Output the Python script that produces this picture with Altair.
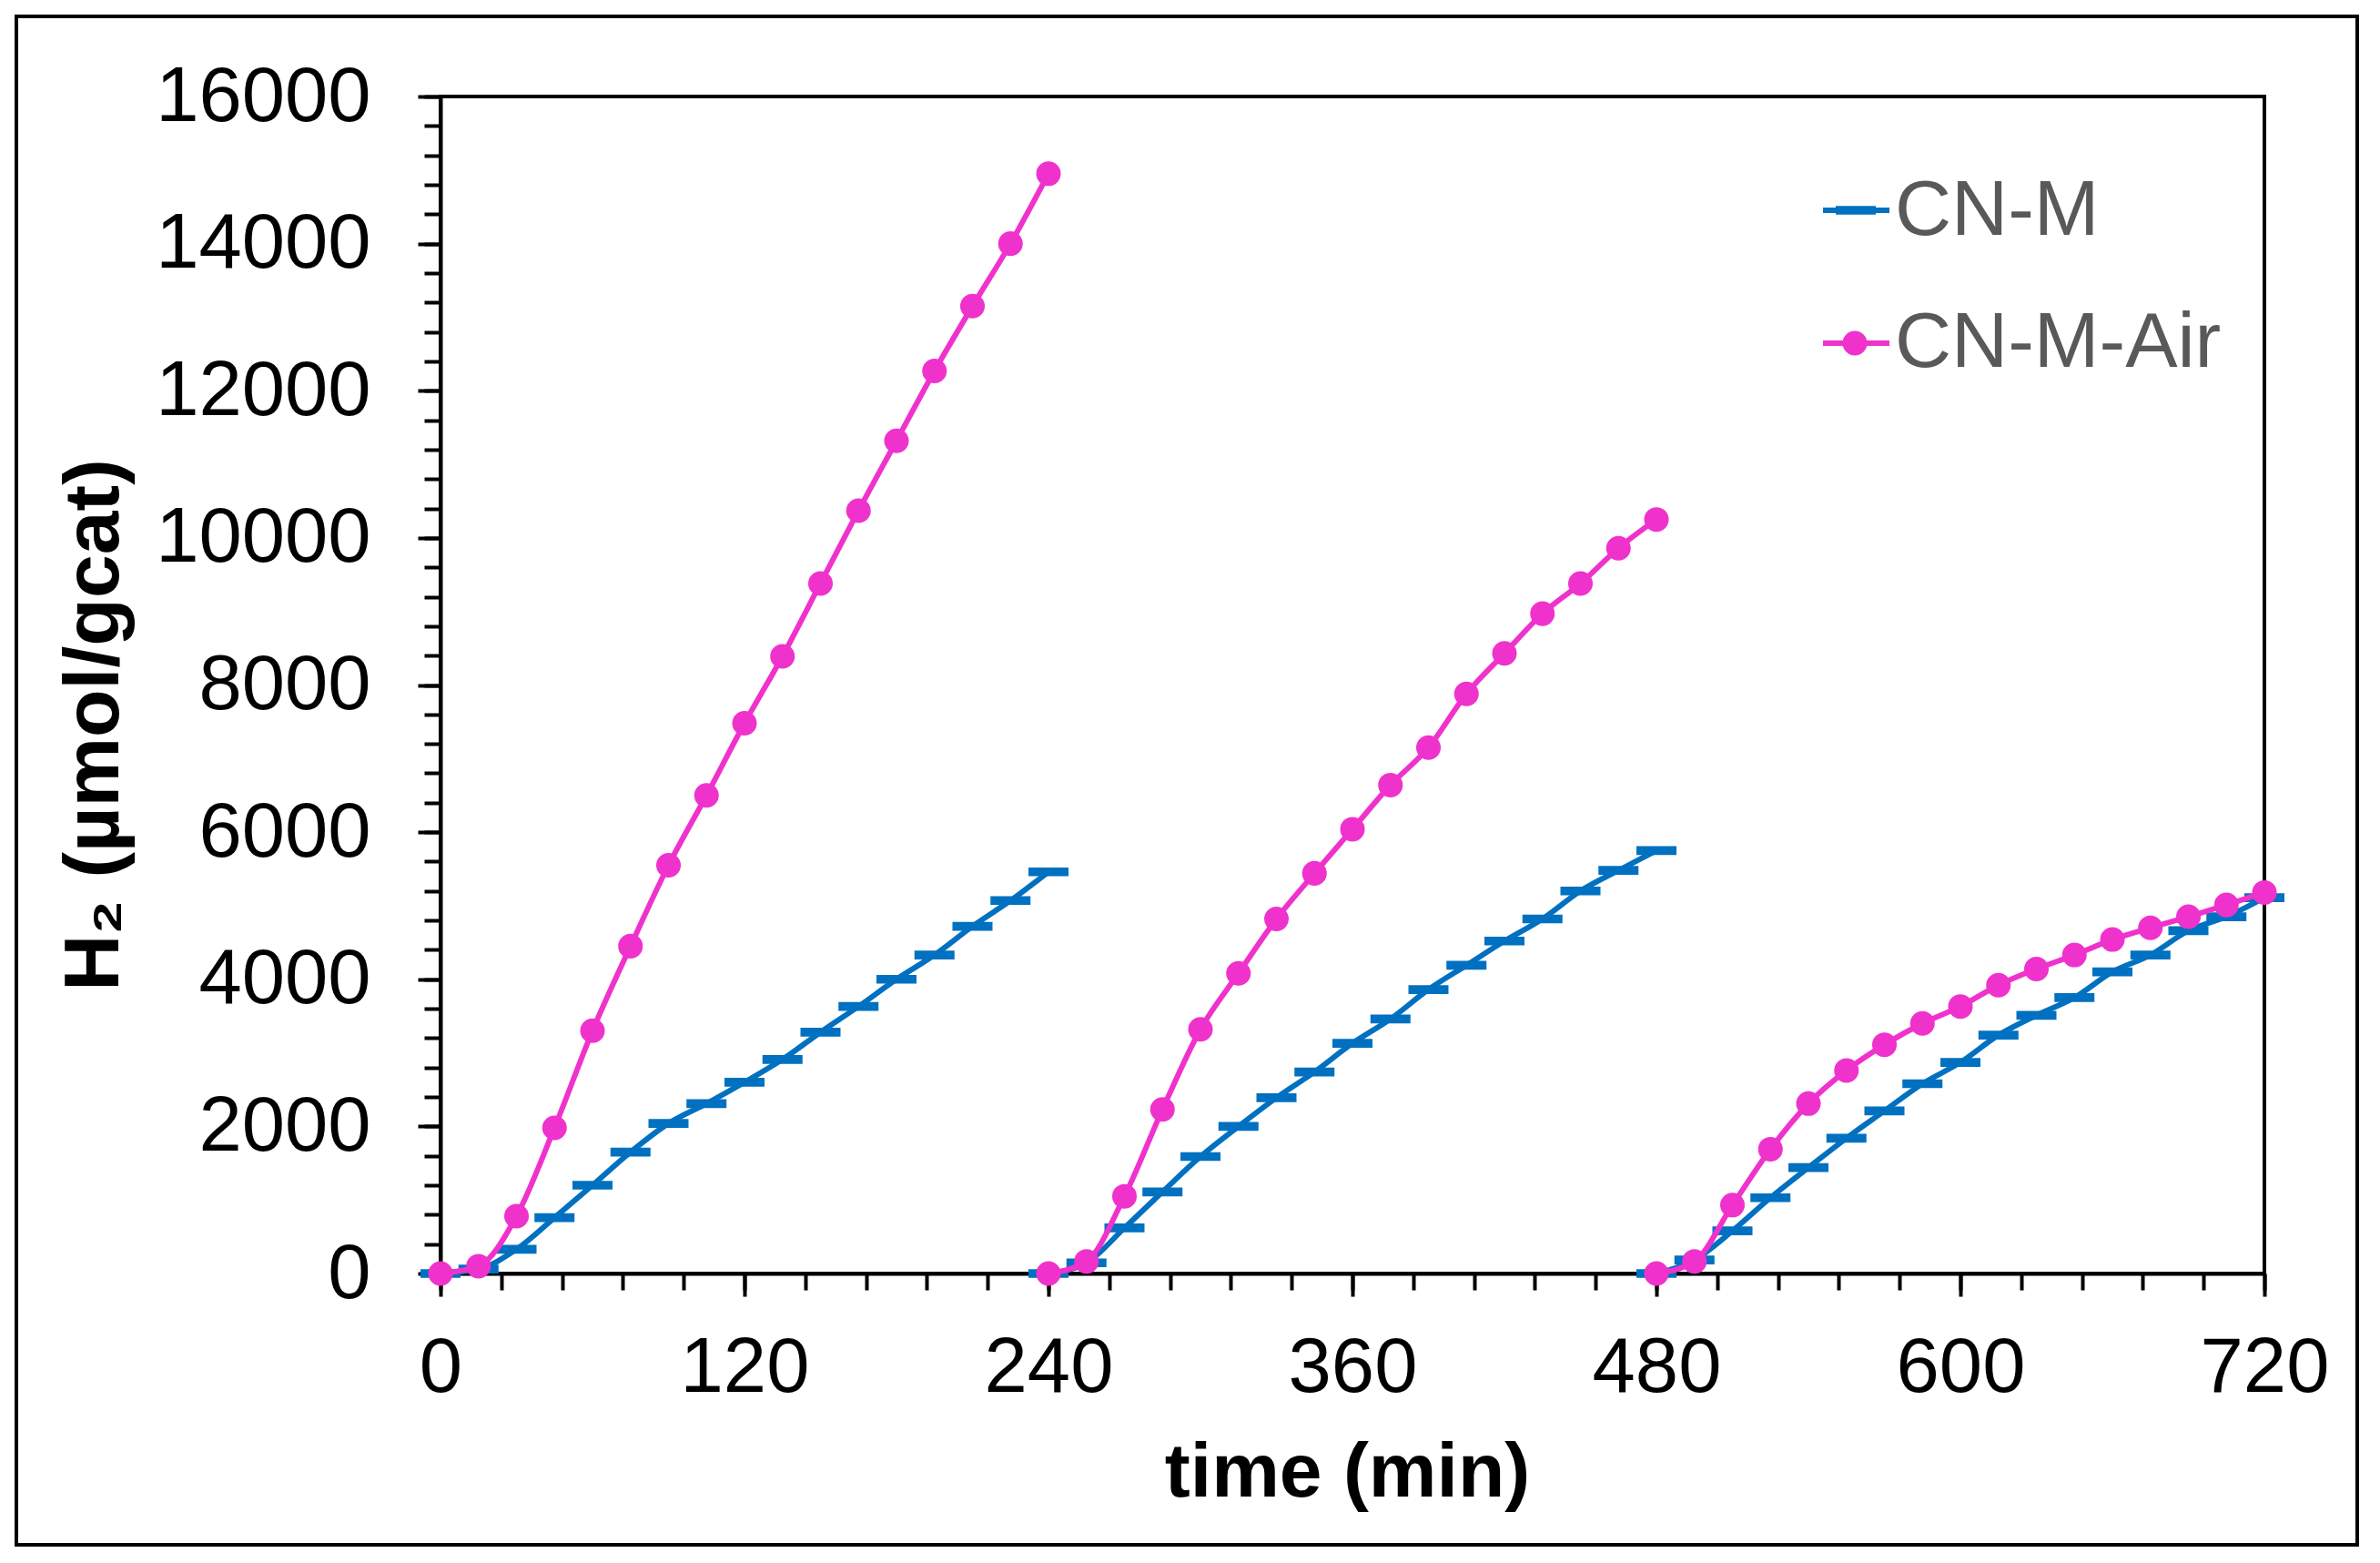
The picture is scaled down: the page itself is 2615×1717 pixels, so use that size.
import altair as alt
import pandas as pd

# ---- data ----
times = [0, 15, 30, 45, 60, 75, 90, 105, 120, 135, 150, 165, 180, 195, 210, 225, 240]
run_starts = [0, 240, 480]

cnm_run1 = [0, 60, 330, 760, 1200, 1650, 2040, 2310, 2600, 2910, 3280, 3630, 4000, 4330, 4720, 5070, 5460]
cnm_run2 = [0, 145, 620, 1110, 1590, 2000, 2390, 2740, 3130, 3460, 3860, 4190, 4520, 4820, 5200, 5480, 5750]
cnm_run3 = [0, 185, 580, 1030, 1440, 1840, 2210, 2580, 2870, 3240, 3510, 3750, 4100, 4330, 4660, 4850, 5110]

air_run1 = [0, 100, 780, 1980, 3300, 4450, 5550, 6500, 7480, 8390, 9380, 10370, 11320, 12270, 13150, 14000, 14950]
air_run2 = [0, 165, 1050, 2230, 3320, 4080, 4820, 5440, 6040, 6640, 7150, 7880, 8430, 8970, 9380, 9860, 10250]
air_run3 = [0, 165, 930, 1690, 2310, 2760, 3110, 3400, 3630, 3920, 4140, 4330, 4540, 4700, 4850, 5010, 5180]

series_names = ["CN-M", "CN-M-Air"]
x_major = [0, 120, 240, 360, 480, 600, 720]
x_minor = list(range(0, 721, 24))
y_major = list(range(0, 16001, 2000))
y_minor = list(range(0, 16001, 400))

BLUE = "#0070C0"
PINK = "#F032CD"
FONT = "Liberation Sans"


def build(runs):
    rows = []
    for i, (start, vals) in enumerate(zip(run_starts, runs)):
        for t, v in zip(times, vals):
            rows.append({"run": i, "time": start + t, "h2": v})
    return pd.DataFrame(rows)


df_blue = build([cnm_run1, cnm_run2, cnm_run3])
df_pink = build([air_run1, air_run2, air_run3])

xscale = alt.Scale(domain=[0, 720], nice=False, zero=False)
yscale = alt.Scale(domain=[0, 16000], nice=False)

ax_x_major = alt.Axis(
    values=x_major, orient="bottom", tickSize=25, tickWidth=4, tickColor="black",
    domainColor="black", domainWidth=4, grid=False, labelLimit=0,
    labelFont=FONT, labelFontSize=85, labelColor="black", labelPadding=104,
    labelBaseline="alphabetic", labelFlush=False, labelOverlap=False,
    title="time (min)", titleFont=FONT, titleFontSize=84, titleFontWeight="bold",
    titleColor="black", titleX=996, titleY=244, titleBaseline="alphabetic", titleAlign="center",
)
ax_x_minor = alt.Axis(
    values=x_minor, orient="bottom", tickSize=18, tickWidth=4, tickColor="black",
    domain=False, labels=False, grid=False, title="",
)
ax_y_major = alt.Axis(
    values=y_major, orient="left", tickSize=25, tickWidth=4, tickColor="black",
    domainColor="black", domainWidth=4, grid=False, format="d", labelLimit=0,
    labelFont=FONT, labelFontSize=85, labelColor="black", labelPadding=52,
    labelBaseline="middle", labelOverlap=False, labelFlush=False,
    title="H₂ (µmol/gcat)", titleFont=FONT, titleFontSize=86, titleFontWeight="bold",
    titleColor="black", titleX=-355, titleY=690, titleAngle=270, titleLimit=0,
    titleBaseline="alphabetic", titleAlign="center",
)
ax_y_minor = alt.Axis(
    values=y_minor, orient="left", tickSize=18, tickWidth=4, tickColor="black",
    domain=False, labels=False, grid=False, title="",
)

DASH = "M-1,-0.22L1,-0.22L1,0.22L-1,0.22Z"

blue_line = alt.Chart(df_blue).mark_line(color=BLUE, strokeWidth=6, interpolate="monotone").encode(
    x=alt.X("time:Q", scale=xscale, axis=ax_x_major),
    y=alt.Y("h2:Q", scale=yscale, axis=ax_y_major),
    detail="run:N",
)
blue_pts = alt.Chart(df_blue).mark_point(shape=DASH, size=1936, filled=True, color=BLUE, opacity=1, strokeWidth=0).encode(
    x=alt.X("time:Q", scale=xscale, axis=ax_x_minor),
    y=alt.Y("h2:Q", scale=yscale, axis=ax_y_minor),
)
pink_line = alt.Chart(df_pink).mark_line(color=PINK, strokeWidth=6, interpolate="monotone").encode(
    x=alt.X("time:Q", scale=xscale, axis=None),
    y=alt.Y("h2:Q", scale=yscale, axis=None),
    detail="run:N",
)
pink_pts = alt.Chart(df_pink).mark_circle(size=730, color=PINK, opacity=1).encode(
    x=alt.X("time:Q", scale=xscale, axis=None),
    y=alt.Y("h2:Q", scale=yscale, axis=None),
)

# ---- legend (manual) ----
leg_b = pd.DataFrame({"label": [series_names[0]]})
leg_p = pd.DataFrame({"label": [series_names[1]]})
lb_rule = alt.Chart(leg_b).mark_rule(color=BLUE, strokeWidth=6).encode(
    x=alt.value(1519), x2=alt.value(1592), y=alt.value(125))
lb_mark = alt.Chart(leg_b).mark_point(shape=DASH, size=1936, filled=True, color=BLUE, opacity=1, strokeWidth=0).encode(
    x=alt.value(1555), y=alt.value(125))
lb_text = alt.Chart(leg_b).mark_text(align="left", baseline="alphabetic", font=FONT, fontSize=86, color="#595959").encode(
    x=alt.value(1598), y=alt.value(152), text="label:N")
lp_rule = alt.Chart(leg_p).mark_rule(color=PINK, strokeWidth=6).encode(
    x=alt.value(1519), x2=alt.value(1592), y=alt.value(271))
lp_mark = alt.Chart(leg_p).mark_circle(size=730, color=PINK, opacity=1).encode(
    x=alt.value(1554), y=alt.value(271))
lp_text = alt.Chart(leg_p).mark_text(align="left", baseline="alphabetic", font=FONT, fontSize=86, color="#595959").encode(
    x=alt.value(1598), y=alt.value(297), text="label:N")

frame = alt.Chart(leg_b).mark_rect(fillOpacity=0, stroke="black", strokeWidth=4).encode(
    x=alt.value(-466), x2=alt.value(2106), y=alt.value(-88), y2=alt.value(1591))

chart = alt.layer(
    blue_line, blue_pts, pink_line, pink_pts,
    lb_rule, lb_mark, lb_text, lp_rule, lp_mark, lp_text, frame,
).resolve_axis(x="independent", y="independent").properties(
    width=2004, height=1293,
    autosize=alt.AutoSizeParams(type="none"),
    padding={"left": 476, "top": 98, "right": 119, "bottom": 310},
    background="white",
).configure_view(stroke="black", strokeWidth=4)

chart.save("out.html", embed_options={"renderer": "svg", "actions": False})
